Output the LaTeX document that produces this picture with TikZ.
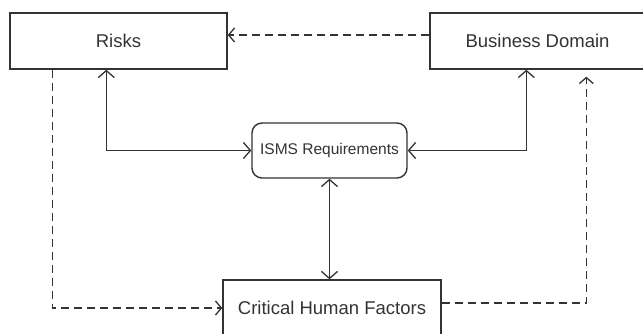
\documentclass[tikz,border=0pt]{standalone}
\usepackage{fontspec}
\setmainfont{Liberation Sans}
\usetikzlibrary{arrows.meta}
\definecolor{ink}{HTML}{333333}
\begin{document}
\begin{tikzpicture}[x=1pt,y=-1pt,
  box/.style={draw=ink,line width=1.4pt,rectangle,minimum height=56pt,inner sep=0pt,text=ink,font=\fontsize{18.5}{21}\selectfont},
  rbox/.style={draw=ink,line width=1.4pt,rectangle,rounded corners=10pt,minimum width=155pt,minimum height=55pt,inner sep=0pt,text=ink,font=\fontsize{15.5}{18}\selectfont},
  link/.style={draw=ink,line width=1.3pt,{Straight Barb[length=7pt,width=16pt,line width=1.3pt]}-{Straight Barb[length=7pt,width=16pt,line width=1.3pt]}},
  dlink/.style={draw=ink,line width=1.3pt,dash pattern=on 8pt off 5pt,-{Straight Barb[length=6pt,width=14pt,line width=1.3pt]}}]
\useasboundingbox (0,0) rectangle (643,333);
\clip (0,0) rectangle (643,333);
\fill[white] (0,0) rectangle (643,333);
\node[box,minimum width=217pt] (risks) at (118.5,41) {Risks};
\node[box,minimum width=215pt] (bd) at (537.5,41) {Business Domain};
\node[rbox] (isms) at (329.5,150.5) {ISMS Requirements};
\node[box,minimum width=218pt] (chf) at (332,308) {Critical Human Factors};
% solid bidirectional
\draw[link] ([xshift=97pt]risks.south west) |- (isms.west);
\draw[link] ([xshift=97pt]bd.south west) |- (isms.east);
\draw[link] (isms.south) -- (isms.south |- chf.north);
% dashed
\draw[dlink] ([yshift=6pt]bd.west) -- ([yshift=6pt]risks.east);
\draw[dlink] ([xshift=43pt]risks.south west) |- (chf.west);
\draw[dlink] ([yshift=5pt]chf.east) -| ([xshift=157pt,yshift=-7pt]bd.south west);
\end{tikzpicture}
\end{document}
